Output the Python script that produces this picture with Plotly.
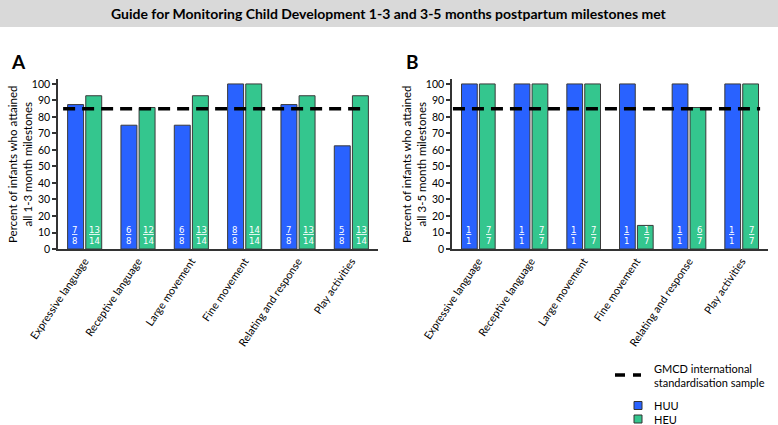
import plotly.graph_objects as go
from plotly.subplots import make_subplots

# ---------------- data ----------------
categories = ['Expressive language', 'Receptive language', 'Large movement',
              'Fine movement', 'Relating and response', 'Play activities']

# panel A: 1-3 months
huu_a_num = [7, 6, 6, 8, 7, 5]
huu_a_den = [8, 8, 8, 8, 8, 8]
heu_a_num = [13, 12, 13, 14, 13, 13]
heu_a_den = [14, 14, 14, 14, 14, 14]

# panel B: 3-5 months
huu_b_num = [1, 1, 1, 1, 1, 1]
huu_b_den = [1, 1, 1, 1, 1, 1]
heu_b_num = [7, 7, 7, 1, 6, 7]
heu_b_den = [7, 7, 7, 7, 7, 7]

gmcd_reference = 85

y_ticks = list(range(0, 101, 10))

BLUE = '#2962ff'
GREEN = '#34c68e'
W, H = 778, 425


def pct(num, den):
    return [100 * n / d for n, d in zip(num, den)]


fig = make_subplots(rows=1, cols=2)

panels = [
    (1, huu_a_num, huu_a_den, heu_a_num, heu_a_den),
    (2, huu_b_num, huu_b_den, heu_b_num, heu_b_den),
]

for col, hn, hd, en, ed in panels:
    for name, num, den, color, shift in [('HUU', hn, hd, BLUE, -10),
                                         ('HEU', en, ed, GREEN, 10)]:
        fig.add_trace(go.Bar(
            x=categories, y=pct(num, den), name=name,
            marker=dict(color=color, line=dict(color='#3a3a3a', width=1)),
            showlegend=False, hoverinfo='skip'
        ), row=1, col=col)
        xref = 'x' if col == 1 else 'x2'
        yref = 'y' if col == 1 else 'y2'
        # n/N fraction at the foot of each bar
        for c, n, d in zip(categories, num, den):
            fig.add_annotation(
                x=c, y=0, xref=xref, yref=yref, xshift=shift, yshift=1,
                yanchor='bottom', showarrow=False,
                text=f"<u>{n}</u><br>{d}",
                font=dict(family='DejaVu Sans', size=8.5, color='white')
            )
    # GMCD reference line
    xr = 'x domain' if col == 1 else 'x2 domain'
    yr = 'y' if col == 1 else 'y2'
    x0, x1 = (0.016, 0.965) if col == 1 else (0.003, 0.975)
    fig.add_shape(type='line', xref=xr, yref=yr, x0=x0, x1=x1,
                  y0=gmcd_reference, y1=gmcd_reference,
                  line=dict(color='black', width=3.5, dash='12px,7px'))

ax_common = dict(showline=True, linecolor='#333', linewidth=1.5,
                 showgrid=False, zeroline=False, automargin=False)
y_bot = 1 - 249 / H
y_top = 1 - 79 / H

fig.update_xaxes(**ax_common, ticks='', tickangle=-56,
                 tickfont=dict(family='Lato', size=10.8, color='black'))
fig.update_yaxes(**ax_common, range=[0, 103], tickvals=y_ticks,
                 ticks='outside', ticklen=4, tickcolor='#333', tickwidth=1.5,
                 tickfont=dict(family='Lato', size=10.5, color='black'),
                 domain=[y_bot, y_top])
fig.update_layout(
    xaxis=dict(domain=[58 / W, 378 / W]),
    xaxis2=dict(domain=[452 / W, 768 / W]),
)

# title band
fig.add_shape(type='rect', xref='paper', yref='paper', x0=0, x1=1,
              y0=1 - 27 / H, y1=1, fillcolor='#d9d9d9', line=dict(width=0),
              layer='below')
fig.add_annotation(xref='paper', yref='paper', x=0.5, y=1 - 13.5 / H,
                   showarrow=False, xanchor='center', yanchor='middle',
                   text='<b>Guide for Monitoring Child Development 1-3 and 3-5 months postpartum milestones met</b>',
                   font=dict(family='Lato', size=14, color='black'))

# panel letters
for lbl, px in [('A', 18), ('B', 412)]:
    fig.add_annotation(xref='paper', yref='paper', x=px / W, y=1 - 61 / H,
                       showarrow=False, xanchor='center', yanchor='middle',
                       text=f'<b>{lbl}</b>',
                       font=dict(family='Lato', size=19, color='black'))

# y axis titles
for months, px in [('1-3', 20), ('3-5', 414)]:
    fig.add_annotation(xref='paper', yref='paper', x=px / W, y=1 - 165 / H,
                       showarrow=False, textangle=-90,
                       xanchor='center', yanchor='middle',
                       text=f'Percent of infants who attained<br>all {months} month milestones',
                       font=dict(family='Lato', size=11.5, color='black'))

# legend (drawn manually)
fig.add_shape(type='line', xref='paper', yref='paper',
              x0=615 / W, x1=641 / W, y0=1 - 375 / H, y1=1 - 375 / H,
              line=dict(color='black', width=3.5, dash='10px,8px'))
fig.add_annotation(xref='paper', yref='paper', x=652 / W, y=1 - 375 / H,
                   showarrow=False, xanchor='left', yanchor='middle', align='left',
                   text='GMCD international<br>standardisation sample',
                   font=dict(family='Lato', size=11, color='black'))
for name, color, cy in [('HUU', BLUE, 405.5), ('HEU', GREEN, 419)]:
    fig.add_shape(type='rect', xref='paper', yref='paper',
                  x0=634 / W, x1=642 / W, y0=1 - (cy + 4) / H, y1=1 - (cy - 4) / H,
                  fillcolor=color, line=dict(color='#333', width=1))
    fig.add_annotation(xref='paper', yref='paper', x=652 / W, y=1 - cy / H,
                       showarrow=False, xanchor='left', yanchor='middle',
                       text=name, font=dict(family='Lato', size=11, color='black'))

fig.update_layout(
    width=W, height=H,
    barmode='group', bargap=0.32, bargroupgap=0.12,
    paper_bgcolor='white', plot_bgcolor='white',
    margin=dict(l=0, r=0, t=0, b=0, autoexpand=False),
    showlegend=False,
)

# page has a default 8px body margin; drop it so the 778x425 figure fills the window
fig.write_html('out.html', config={'displayModeBar': False},
               post_script="document.body.style.margin='0';")
